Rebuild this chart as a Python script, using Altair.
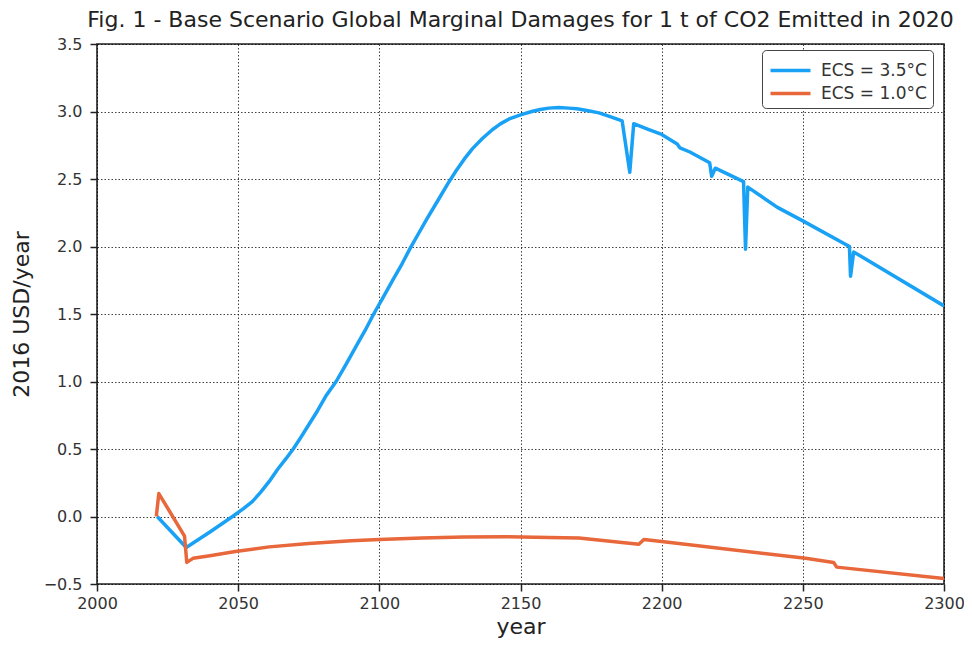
import altair as alt
import pandas as pd

blue_years = [2021.3, 2031.6, 2040, 2048, 2052, 2055, 2058, 2061, 2064, 2067, 2069.5, 2072, 2075,
              2078, 2081, 2084.7, 2088, 2092, 2095, 2098, 2101, 2105, 2108, 2111, 2114, 2117,
              2121, 2124.7, 2127, 2130, 2133, 2136.5, 2140, 2143, 2146, 2150, 2154, 2157, 2160,
              2163.6, 2167, 2170, 2174, 2177.8, 2182, 2186, 2188.7, 2190.1, 2195, 2200, 2205.5,
              2206.5, 2210, 2217, 2217.7, 2219, 2229, 2229.7, 2230.5, 2241, 2250, 2266.5, 2266.9,
              2268, 2300]
blue_vals = [0.00, -0.23, -0.115, 0.00, 0.06, 0.11, 0.18, 0.26, 0.35, 0.43, 0.50, 0.58, 0.68,
             0.78, 0.89, 1.00, 1.12, 1.27, 1.38, 1.50, 1.61, 1.76, 1.87, 1.99, 2.10, 2.21,
             2.35, 2.48, 2.555, 2.645, 2.725, 2.80, 2.865, 2.91, 2.945, 2.975, 3.00, 3.015, 3.025,
             3.03, 3.025, 3.02, 3.005, 2.99, 2.96, 2.93, 2.55, 2.91, 2.87, 2.83, 2.76,
             2.73, 2.70, 2.62, 2.52, 2.58, 2.48, 1.98, 2.44, 2.29, 2.19, 2.00, 1.78,
             1.96, 1.56]

orange_years = [2021, 2021.9, 2031, 2031.8, 2034, 2040, 2049, 2061, 2075, 2090, 2100, 2115, 2130,
                2145, 2160, 2170.7, 2191.9, 2193.7, 2200, 2251, 2260.9, 2262, 2300]
orange_vals = [0.00, 0.17, -0.145, -0.34, -0.31, -0.29, -0.26, -0.225, -0.20, -0.18, -0.17,
               -0.16, -0.152, -0.15, -0.155, -0.16, -0.205, -0.17, -0.185, -0.31, -0.34,
               -0.375, -0.46]

series_names = ["ECS = 3.5°C", "ECS = 1.0°C"]
series_colors = ["#19a1f5", "#e8673b"]

x_ticks = [2000, 2050, 2100, 2150, 2200, 2250, 2300]
y_ticks = [-0.5, 0.0, 0.5, 1.0, 1.5, 2.0, 2.5, 3.0, 3.5]

rows = []
for i, (yr, v) in enumerate(zip(blue_years, blue_vals)):
    rows.append({"year": yr, "value": v, "series": series_names[0], "ord": i})
for i, (yr, v) in enumerate(zip(orange_years, orange_vals)):
    rows.append({"year": yr, "value": v, "series": series_names[1], "ord": i})
df = pd.DataFrame(rows)

chart = alt.Chart(df).mark_line(strokeWidth=3.5, clip=True, strokeJoin="round").encode(
    x=alt.X("year:Q", scale=alt.Scale(domain=[2000, 2300], nice=False, zero=False),
            axis=alt.Axis(values=x_ticks, format="d", title="year", grid=True, labelFlush=False)),
    y=alt.Y("value:Q", scale=alt.Scale(domain=[-0.5, 3.5], nice=False, zero=False),
            axis=alt.Axis(values=y_ticks, format=".1f", title="2016 USD/year", grid=True,
                          labelFlush=False)),
    color=alt.Color("series:N",
                    scale=alt.Scale(domain=series_names, range=series_colors),
                    legend=alt.Legend(title=None, orient="none", legendX=665, legendY=6,
                                      symbolType="M-1.6,0L1.6,0", symbolOffset=8,
                                      symbolStrokeWidth=3.5, symbolSize=625,
                                      strokeColor="#444", cornerRadius=4, padding=6,
                                      fillColor="white", labelFontSize=17,
                                      labelFont="DejaVu Sans", labelColor="#333",
                                      rowPadding=0, labelOffset=16)),
    order="ord:Q",
).properties(
    width=847, height=540,
    title=alt.TitleParams("Fig. 1 - Base Scenario Global Marginal Damages for 1 t of CO2 Emitted in 2020",
                          fontSize=22, fontWeight="normal", font="DejaVu Sans",
                          color="#222", offset=4),
    autosize=alt.AutoSizeParams(type="none"),
    padding={"left": 89, "top": 36, "right": 20, "bottom": 59},
).configure_view(
    stroke="#222", strokeWidth=1.6
).configure_axis(
    labelFont="DejaVu Sans", labelFontSize=16, labelColor="#333",
    titleFont="DejaVu Sans", titleFontSize=22, titleFontWeight="normal", titleColor="#222",
    gridColor="black", gridDash=[1.5, 2], gridOpacity=0.75, gridWidth=1,
    tickColor="#222", tickSize=7, tickWidth=1.5, domain=False, labelPadding=8
).configure_axisX(titlePadding=5, labelPadding=4).configure_axisY(titlePadding=10)

chart.save("out.html", embed_options={"renderer": "svg", "actions": False})
